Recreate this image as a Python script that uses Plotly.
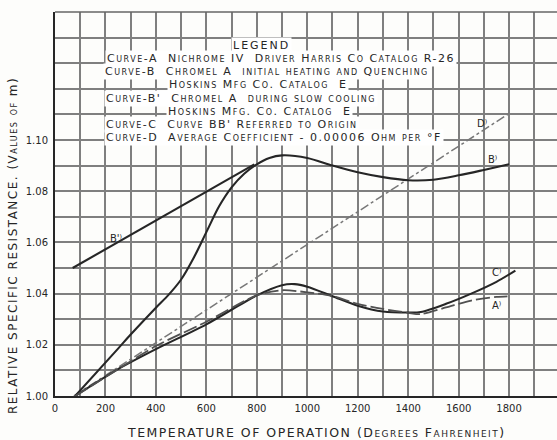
import plotly.graph_objects as go

# ---- data ----
temp_A = [80, 250, 400, 600, 800, 900, 1000, 1100, 1200, 1300, 1400, 1450, 1550, 1650, 1750, 1810]
res_A = [1.000, 1.0105, 1.0195, 1.0290, 1.0393, 1.0413, 1.0405, 1.0390, 1.0360, 1.0340,
         1.0325, 1.0320, 1.0346, 1.0373, 1.0387, 1.0390]

temp_C = [80, 250, 400, 600, 800, 900, 950, 1000, 1100, 1200, 1300, 1400, 1450, 1550, 1650, 1750, 1825]
res_C = [1.000, 1.0105, 1.0183, 1.0280, 1.0393, 1.0433, 1.0437, 1.0427, 1.0390, 1.0353,
         1.0330, 1.0326, 1.0328, 1.0360, 1.0400, 1.0446, 1.0490]

temp_B = [80, 250, 300, 400, 450, 500, 550, 600, 650, 700, 750, 800, 850, 900, 1000, 1100, 1200,
          1300, 1400, 1500, 1600, 1700, 1800]
res_B = [1.000, 1.0185, 1.0240, 1.0345, 1.0395, 1.0455, 1.0540, 1.0640, 1.0740, 1.0815, 1.0868,
         1.0905, 1.0930, 1.0940, 1.0930, 1.0900, 1.0874, 1.0855, 1.0843, 1.0845, 1.0862, 1.0883,
         1.0905]

temp_B1 = [70, 790]
res_B1 = [1.050, 1.0905]

temp_D = [75, 1810]
res_D = [1.000, 1.111]

y_label_alias = {"1.12": " ", "1.14": " "}

curve_labels = ["D⁾", "B⁾", "C⁾", "A⁾", "B'⁾"]
curve_label_x = [1693, 1736, 1752, 1752, 242]
curve_label_y = [1.1066, 1.0922, 1.0484, 1.0352, 1.0617]

legend_title = "LEGEND"
legend_rows = [
    "Curve-A  Nichrome IV  Driver Harris Co Catalog R-26",
    "Curve-B  Chromel A  initial heating and Quenching",
    "Hoskins Mfg Co. Catalog  E",
    "Curve-B'  Chromel A  during slow cooling",
    "Hoskins Mfg. Co. Catalog  E",
    "Curve-C  Curve BB' Referred to Origin",
    "Curve-D  Average Coefficient - 0.00006 Ohm per °F",
]
x_title = "TEMPERATURE OF OPERATION (Degrees Fahrenheit)"
y_title_main = "RELATIVE SPECIFIC RESISTANCE. (Values of "
y_title_unit = "m"

# ---- styling ----
INK = "#262626"
GRID = "#7f7f7f"
FONT = "DejaVu Sans"


def spaced(t, ls):
    return '<span style="letter-spacing:%spx">%s</span>' % (ls, t)


fig = go.Figure()
fig.add_trace(go.Scatter(x=temp_D, y=res_D, mode="lines",
                         line=dict(color="#777777", width=1.5, dash="dashdot")))
fig.add_trace(go.Scatter(x=temp_B1, y=res_B1, mode="lines",
                         line=dict(color=INK, width=2.1)))
fig.add_trace(go.Scatter(x=temp_B, y=res_B, mode="lines", line_shape="spline",
                         line=dict(color=INK, width=2.1, smoothing=0.8)))
fig.add_trace(go.Scatter(x=temp_C, y=res_C, mode="lines", line_shape="spline",
                         line=dict(color=INK, width=2.1, smoothing=0.8)))
fig.add_trace(go.Scatter(x=temp_A, y=res_A, mode="lines", line_shape="spline",
                         line=dict(color="#505050", width=1.8, dash="14px,4px", smoothing=0.8)))

for t, lx, ly in zip(curve_labels, curve_label_x, curve_label_y):
    fig.add_annotation(x=lx, y=ly, xref="x", yref="y", text=t, showarrow=False,
                       font=dict(family=FONT, size=10, color=INK))

# legend block
fig.add_annotation(x=0.412, y=0.914, xref="paper", yref="paper", text=spaced(legend_title, 2),
                   showarrow=False, xanchor="center", yanchor="middle",
                   bgcolor="white", borderpad=1,
                   font=dict(family=FONT, size=11, color=INK))
row_x = [0.0996, 0.0956, 0.223, 0.0976, 0.221, 0.0976, 0.0976]
row_y = [0.878, 0.844, 0.81, 0.776, 0.740, 0.706, 0.672]
for t, rx, ry in zip(legend_rows, row_x, row_y):
    fig.add_annotation(x=rx, y=ry, xref="paper", yref="paper", text=spaced(t, 1.5),
                       showarrow=False, xanchor="left", yanchor="middle",
                       bgcolor="white", borderpad=1,
                       font=dict(family=FONT, size=11, color=INK, variant="small-caps"))

# axis titles
fig.add_annotation(x=0.52, y=-0.094, xref="paper", yref="paper", text=spaced(x_title, 1.5),
                   showarrow=False, xanchor="center", yanchor="middle",
                   font=dict(family=FONT, size=12.5, color=INK, variant="small-caps"))
y_title = (spaced(y_title_main, 1.5)
           + '<span style="font-variant:normal;letter-spacing:1.5px">%s</span>' % y_title_unit
           + spaced(")", 1.5))
fig.add_annotation(x=-0.0837, y=0.393, xref="paper", yref="paper", text=y_title,
                   showarrow=False, xanchor="center", yanchor="middle", textangle=-90,
                   font=dict(family=FONT, size=12, color=INK, variant="small-caps"))

# top border
fig.add_shape(type="line", xref="paper", yref="paper", x0=0, x1=1, y0=1, y1=1,
              line=dict(color="#666666", width=1.5))

fig.update_xaxes(range=[0, 1990], tickmode="linear", tick0=0, dtick=200,
                 showgrid=True, gridcolor=GRID, gridwidth=1.5,
                 minor=dict(tickmode="linear", tick0=0, dtick=100, showgrid=True,
                            gridcolor=GRID, gridwidth=1.5),
                 showline=True, linecolor=INK, linewidth=2, zeroline=False,
                 ticks="", ticklabelstandoff=2,
                 tickfont=dict(family=FONT, size=10, color=INK))
fig.update_yaxes(range=[1.0, 1.15], tickmode="linear", tick0=1.0, dtick=0.02,
                 tickformat=".2f", labelalias=y_label_alias,
                 showgrid=True, gridcolor=GRID, gridwidth=1.5,
                 minor=dict(tickmode="linear", tick0=1.0, dtick=0.01, showgrid=True,
                            gridcolor=GRID, gridwidth=1.5),
                 showline=True, linecolor=INK, linewidth=2, zeroline=False,
                 ticks="", ticklabelstandoff=3,
                 tickfont=dict(family=FONT, size=10, color=INK))

fig.update_layout(width=557, height=440, showlegend=False,
                  margin=dict(l=55, r=0, t=12, b=44, pad=0),
                  paper_bgcolor="#fdfdfb", plot_bgcolor="#fdfdfb")

fig.write_html("out.html", config={"displayModeBar": False},
               post_script="document.body.style.margin='0';document.body.style.overflow='hidden';")
